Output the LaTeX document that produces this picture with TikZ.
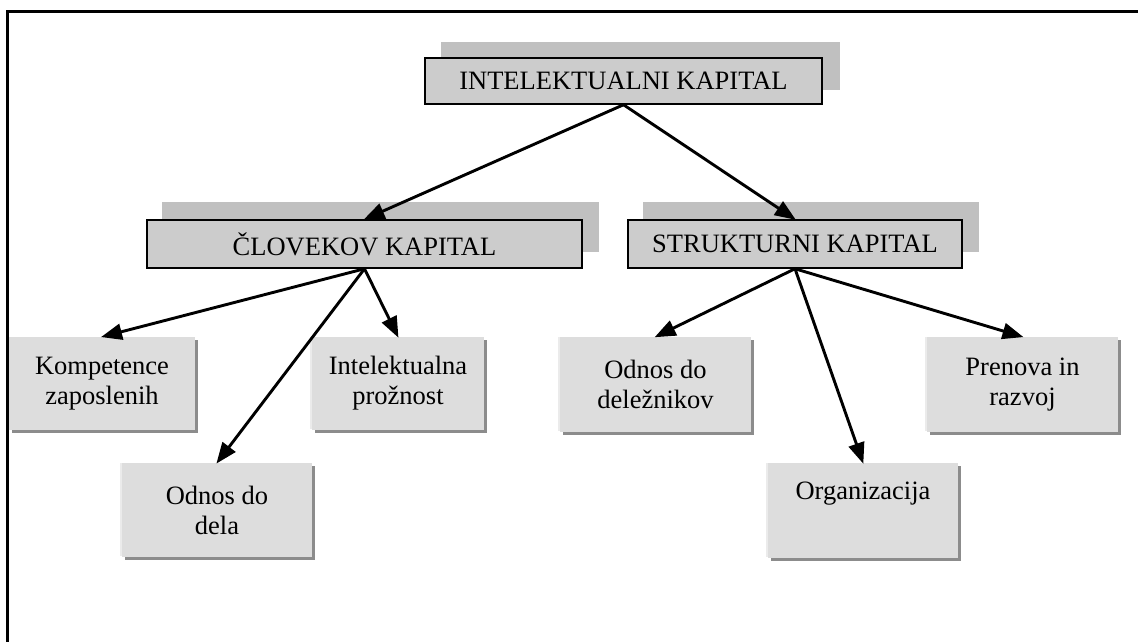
\documentclass[tikz,border=0pt]{standalone}
\usepackage{fontspec}
\setmainfont{Liberation Serif}
\usetikzlibrary{arrows.meta,backgrounds}
\definecolor{headfill}{HTML}{CCCCCC}
\definecolor{headshade}{HTML}{C0C0C0}
\definecolor{leaffill}{HTML}{DDDDDD}
\definecolor{leafshade}{HTML}{8C8C8C}
\definecolor{leaflight}{HTML}{EBEBEB}
\begin{document}
\begin{tikzpicture}[x=1pt,y=-1pt,
  txt/.style={font=\fontsize{26.5}{30}\selectfont, align=center, inner sep=0pt},
  headbox/.style={txt, draw=black, line width=1.5pt, fill=headfill},
  leafbox/.style={txt, fill=leaffill},
  link/.style={line width=2.9pt, -{Triangle[length=21pt,width=16pt]}, shorten >=-1pt}
]
\useasboundingbox (0,0) rectangle (1138,642);

% outer frame (top and left edges)
\draw[line width=3pt] (7.5,642) -- (7.5,11.5) -- (1140,11.5);

% heading boxes
\node[headbox, minimum width=397pt, minimum height=46pt] (ik) at (623.5,81) {INTELEKTUALNI KAPITAL};
\node[headbox, minimum width=435pt, minimum height=48pt] (ck) at (364.5,244) {ČLOVEKOV KAPITAL};
\node[headbox, minimum width=334pt, minimum height=48pt] (sk) at (795,244) {STRUKTURNI KAPITAL};

% leaf boxes
\node[leafbox, minimum width=186pt, minimum height=93pt] (kz) at (102,383.5) {Kompetence\\zaposlenih};
\node[leafbox, minimum width=172pt, minimum height=93pt] (ip) at (398,383.5) {Intelektualna\\prožnost};
\node[leafbox, minimum width=190pt, minimum height=94pt] (od) at (217,510) {Odnos do\\dela};
\node[leafbox, minimum width=191pt, minimum height=95pt] (dl) at (655.5,384.5) {Odnos do\\deležnikov};
\node[leafbox, minimum width=190pt, minimum height=95pt] (org) at (863,510.5) {Organizacija\\\strut};
\node[leafbox, minimum width=191pt, minimum height=95pt] (pr) at (1022.5,384.5) {Prenova in\\razvoj};

% shadows behind the boxes
\begin{scope}[on background layer]
  \fill[headshade] ([shift={(17,-15)}]ik.south west) rectangle ([shift={(17,-15)}]ik.north east);
  \foreach \b in {ck,sk}
    \fill[headshade] ([shift={(16,-17)}]\b.south west) rectangle ([shift={(16,-17)}]\b.north east);
  \foreach \b in {kz,ip,od,dl,org,pr} {
    \fill[leafshade] ([shift={(3,3)}]\b.south west) rectangle ([shift={(3,3)}]\b.north east);
    \fill[leaflight] ([shift={(-1.5,-1.5)}]\b.south west) rectangle (\b.north east);
  }
\end{scope}

% connectors
\draw[link] (ik.south) -- (ck.north);
\draw[link] (ik.south) -- (sk.north);
\draw[link] (ck.south) -- (kz.north);
\draw[link] (ck.south) -- (ip.north);
\draw[link] (ck.south) -- (od.north);
\draw[link] (sk.south) -- (dl.north);
\draw[link] (sk.south) -- (org.north);
\draw[link] (sk.south) -- (pr.north);
\end{tikzpicture}
\end{document}
